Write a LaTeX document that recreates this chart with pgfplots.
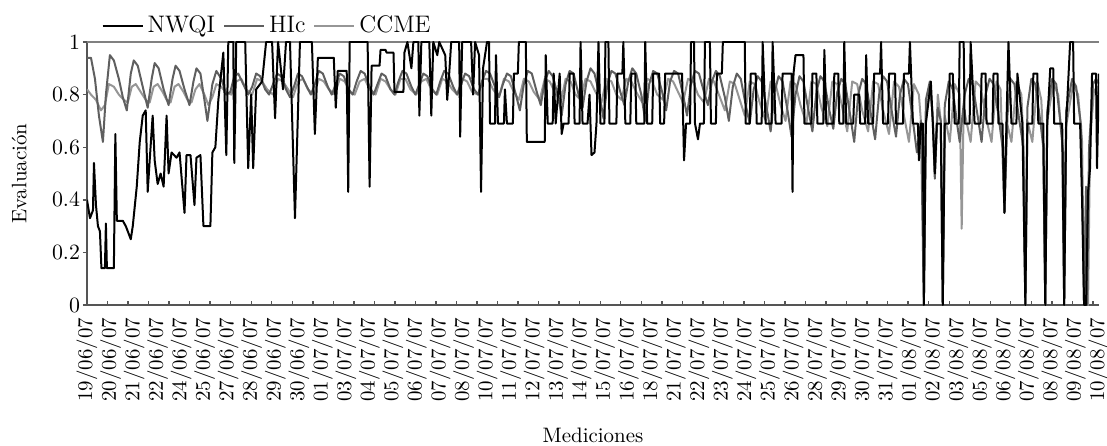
\documentclass[border=0pt]{standalone}
\usepackage{fontspec}
\usepackage{pgfplots}
\pgfplotsset{compat=1.18}
\definecolor{hicgray}{RGB}{95,95,95}
\definecolor{ccmegray}{RGB}{150,150,150}
\definecolor{axgray}{RGB}{85,85,85}
\begin{document}
\begin{tikzpicture}
\begin{axis}[
  name=ax,
  scale only axis, width=506bp, height=131.5bp,
  xmin=0, xmax=1017, ymin=0, ymax=1,
  every axis/.append style={font=\fontsize{10.5}{12.6}\selectfont},
  axis lines*=left,
  axis line style={axgray, line width=0.9bp},
  tick align=inside,
  xtick={0,23.651,...,1018},
  xticklabels={19/06/07,20/06/07,21/06/07,22/06/07,24/06/07,25/06/07,27/06/07,28/06/07,29/06/07,30/06/07,01/07/07,03/07/07,04/07/07,05/07/07,06/07/07,07/07/07,08/07/07,10/07/07,11/07/07,12/07/07,13/07/07,14/07/07,15/07/07,16/07/07,18/07/07,21/07/07,22/07/07,23/07/07,24/07/07,25/07/07,26/07/07,28/07/07,29/07/07,30/07/07,31/07/07,01/08/07,02/08/07,03/08/07,05/08/07,06/08/07,07/08/07,08/08/07,09/08/07,10/08/07},
  major x tick style={draw=none},
  minor xtick={20.63,41.26,...,1012},
  minor tick length=2bp,
  minor x tick style={axgray, line width=0.7bp},
  ytick={0,0.2,0.4,0.6,0.8,1},
  major tick length=2bp,
  major y tick style={axgray, line width=0.7bp, xshift=-2bp},
  xticklabel style={yshift=-3bp, rotate=90, anchor=east},
  every axis y label/.style={at={(axis description cs:-0.067,0.5)}, rotate=90, anchor=center},
  every axis x label/.style={at={(axis description cs:0.5,0)}, anchor=center, yshift=-65bp},
  ylabel={Evaluación},
  xlabel={Mediciones},
  legend columns=3,
  legend style={at={(axis description cs:0.012,1)}, anchor=south west, draw=none, fill=none,
    inner sep=1bp, font=\fontsize{12}{14}\selectfont,
    /tikz/every even column/.append style={column sep=2bp}},
  legend image code/.code={\draw[#1] (0bp,0bp) -- (20bp,0bp);},
  line join=round,
]
\draw[gray, line width=0.8bp] (rel axis cs:0,1) -- (rel axis cs:1,1);
\addlegendimage{black, line width=1bp}
\addlegendentry{NWQI}
\addlegendimage{hicgray, line width=1bp}
\addlegendentry{HIc}
\addlegendimage{ccmegray, line width=1bp}
\addlegendentry{CCME}

% CCME
\addplot[ccmegray, line width=1bp, forget plot] coordinates {
(0,0.82)(4,0.80)(9,0.78)(14,0.74)(18,0.76)(22,0.84)(27,0.83)(32,0.80)(37,0.78)(41,0.77)(45,0.83)
(49,0.84)(54,0.81)(59,0.78)(63,0.77)(67,0.83)(71,0.84)(76,0.81)(80,0.78)(84,0.77)(88,0.83)(92,0.84)
(97,0.81)(101,0.78)(105,0.77)(109,0.82)(113,0.84)(118,0.80)(122,0.76)(126,0.79)(130,0.84)(135,0.83)
(139,0.81)(145,0.80)(150,0.85)(155,0.86)(160,0.82)(166,0.80)(171,0.86)(176,0.85)(181,0.82)
(187,0.80)(192,0.86)(197,0.85)(202,0.82)(207,0.79)(212,0.85)(217,0.86)(222,0.82)(228,0.80)(233,0.86)
(238,0.85)(243,0.82)(249,0.80)(254,0.86)(259,0.85)(264,0.81)(269,0.80)(274,0.85)(279,0.86)(284,0.82)
(290,0.80)(295,0.86)(300,0.85)(305,0.82)(310,0.80)(315,0.86)(320,0.86)(325,0.82)(331,0.80)(336,0.85)
(341,0.86)(346,0.82)(352,0.80)(357,0.86)(362,0.85)(367,0.82)(372,0.80)(377,0.86)(382,0.85)(387,0.81)
(393,0.80)(398,0.86)(403,0.86)(408,0.82)(414,0.79)(419,0.86)(424,0.85)(429,0.81)(434,0.78)(439,0.86)
(444,0.85)(449,0.81)(455,0.78)(460,0.86)(465,0.85)(470,0.81)(476,0.77)(481,0.86)(486,0.85)(491,0.80)
(496,0.78)(501,0.86)(506,0.85)(511,0.81)(517,0.77)(522,0.86)(527,0.85)(532,0.80)(537,0.78)(542,0.86)
(547,0.85)(552,0.81)(558,0.77)(563,0.86)(568,0.85)(573,0.80)(579,0.78)(584,0.86)(589,0.85)(594,0.81)
(599,0.77)(604,0.86)(609,0.85)(614,0.80)(620,0.77)(625,0.86)(630,0.85)(635,0.80)(641,0.74)(646,0.85)
(651,0.84)(656,0.78)(661,0.72)(666,0.85)(671,0.84)(676,0.77)(682,0.70)(687,0.85)(692,0.84)(697,0.76)
(702,0.70)(707,0.85)(712,0.84)(717,0.76)(723,0.69)(728,0.85)(733,0.84)(738,0.75)(744,0.68)(749,0.85)
(754,0.84)(759,0.75)(764,0.66)(769,0.85)(774,0.84)(779,0.74)(785,0.66)(790,0.85)(795,0.84)(800,0.74)
(806,0.65)(811,0.85)(816,0.83)(821,0.72)(826,0.62)(831,0.84)(836,0.80)(839,0.65)(841,0)(843,0.70)
(847,0.84)(850,0.72)(852,0.50)(855,0.80)(858,0.70)(860,0)(862,0.72)(867,0.62)(872,0.84)(877,0.80)
(879,0.29)(881,0.75)(888,0.62)(893,0.85)(898,0.83)(903,0.72)(909,0.62)(914,0.85)(918,0.82)(922,0.36)
(924,0.70)(929,0.62)(934,0.85)(939,0.80)(941,0.62)(943,0)(945,0.70)(950,0.62)(955,0.85)(959,0.78)
(961,0.62)(963,0)(965,0.70)(971,0.84)(976,0.80)(980,0.62)(982,0)(984,0.68)(991,0.84)(996,0.80)
(1000,0.62)(1002,0)(1004,0.40)(1006,0)(1008,0.62)(1012,0.82)(1017,0.80)
};

% HIc
\addplot[hicgray, line width=1bp, forget plot] coordinates {
(0,0.94)(4,0.94)(8,0.86)(12,0.72)(16,0.62)(19,0.80)(23,0.95)(27,0.93)(32,0.86)(36,0.79)(40,0.74)
(44,0.88)(47,0.93)(51,0.91)(56,0.83)(61,0.75)(65,0.86)(68,0.92)(72,0.90)(77,0.82)(82,0.76)(86,0.86)
(89,0.91)(93,0.89)(98,0.82)(103,0.76)(107,0.85)(110,0.90)(114,0.88)(118,0.78)(121,0.70)(126,0.84)
(130,0.89)(135,0.86)(140,0.80)(144,0.81)(148,0.87)(152,0.88)(157,0.84)(162,0.80)(166,0.83)(170,0.88)
(174,0.87)(179,0.82)(183,0.80)(187,0.84)(191,0.88)(195,0.87)(200,0.82)(204,0.79)(208,0.83)(212,0.88)
(216,0.87)(221,0.83)(225,0.80)(229,0.84)(233,0.89)(237,0.88)(242,0.83)(246,0.80)(250,0.84)(254,0.88)
(258,0.87)(263,0.82)(267,0.80)(271,0.85)(275,0.89)(279,0.88)(284,0.83)(288,0.80)(292,0.84)(296,0.88)
(300,0.87)(305,0.82)(309,0.80)(313,0.85)(317,0.89)(321,0.88)(326,0.83)(330,0.80)(334,0.84)(338,0.88)
(342,0.87)(347,0.82)(351,0.80)(355,0.85)(359,0.89)(363,0.88)(368,0.83)(372,0.80)(376,0.84)(380,0.88)
(384,0.87)(389,0.82)(393,0.80)(397,0.85)(401,0.89)(405,0.88)(410,0.83)(414,0.79)(418,0.84)(422,0.88)
(426,0.87)(431,0.80)(435,0.74)(439,0.84)(443,0.89)(447,0.88)(452,0.81)(456,0.76)(460,0.85)(464,0.89)
(468,0.87)(473,0.80)(477,0.72)(481,0.84)(485,0.89)(489,0.88)(494,0.80)(498,0.75)(502,0.85)(506,0.90)
(510,0.88)(515,0.80)(519,0.71)(523,0.84)(527,0.89)(531,0.88)(536,0.81)(540,0.76)(544,0.85)(548,0.90)
(552,0.88)(557,0.80)(561,0.70)(565,0.84)(569,0.89)(573,0.88)(578,0.81)(582,0.74)(586,0.85)(590,0.89)
(594,0.88)(599,0.80)(603,0.72)(607,0.84)(611,0.89)(615,0.88)(620,0.81)(624,0.76)(628,0.85)(632,0.89)
(636,0.87)(641,0.79)(645,0.70)(649,0.83)(653,0.88)(657,0.86)(662,0.76)(666,0.69)(670,0.82)(674,0.87)
(678,0.85)(683,0.75)(687,0.66)(691,0.81)(695,0.87)(699,0.85)(704,0.74)(708,0.64)(712,0.80)(716,0.87)
(720,0.85)(725,0.74)(729,0.66)(733,0.81)(737,0.87)(741,0.85)(746,0.74)(750,0.67)(754,0.81)(758,0.86)
(762,0.84)(767,0.72)(771,0.62)(775,0.80)(779,0.86)(783,0.84)(788,0.72)(792,0.63)(796,0.80)(800,0.87)
(804,0.85)(809,0.73)(813,0.64)(817,0.80)(821,0.86)(825,0.84)(830,0.70)(834,0.58)(838,0.70)(841,0)
(843,0.78)(847,0.85)(850,0.70)(852,0.48)(855,0.75)(858,0.70)(860,0)(862,0.76)(866,0.85)(870,0.82)
(874,0.70)(877,0.62)(882,0.80)(886,0.86)(890,0.84)(895,0.72)(899,0.62)(903,0.80)(907,0.86)(911,0.84)
(916,0.72)(920,0.60)(922,0.35)(925,0.72)(928,0.86)(932,0.84)(937,0.70)(941,0.60)(943,0)(945,0.75)
(949,0.86)(953,0.84)(958,0.70)(961,0.60)(963,0)(965,0.74)(970,0.86)(974,0.84)(978,0.70)(981,0.58)
(982,0)(984,0.74)(990,0.86)(994,0.83)(999,0.68)(1002,0)(1004,0.45)(1005,0)(1007,0.60)(1011,0.84)
(1014,0.86)(1017,0.84)
};

% NWQI
\addplot[black, line width=1bp, forget plot] coordinates {
(0,0.40)(3,0.33)(6,0.36)(7,0.54)(9,0.38)(11,0.30)(13,0.28)(14.5,0.14)(18,0.14)(19,0.31)(20,0.14)(27,0.14)
(28.5,0.65)(30,0.32)(36,0.32)(39,0.30)(44,0.25)(46,0.30)(50,0.45)(53,0.62)(56,0.72)(59,0.74)(61,0.43)
(63,0.55)(66,0.72)(68,0.55)(71,0.46)(74,0.50)(77,0.45)(80,0.72)(82,0.50)(85,0.58)(90,0.56)(93,0.58)
(98,0.35)(100,0.57)(104,0.57)(108,0.38)(110,0.56)(114,0.57)(117,0.30)(124,0.30)(126,0.58)(129,0.60)
(132,0.78)(137,0.96)(140,0.57)(142,1.0)(147,1.0)(148,0.54)(150,1.0)(159,1.0)(162,0.52)(165,0.80)
(167,0.52)(170,0.82)(176,0.85)(180,1.0)(186,1.0)(189,0.71)(192,1.0)(197,0.82)(200,1.0)(204,1.0)
(209,0.33)(214,1.0)(226,1.0)(229,0.65)(232,0.94)(248,0.94)(250,0.75)(252,0.89)(261,0.89)(262.5,0.43)
(264,1.0)(282,1.0)(284,0.45)(286,0.91)(294,0.91)
(295,0.97)(300,0.97)(301,0.96)(308,0.96)(309,0.81)(318,0.81)(319,0.96)(322,1.0)(326,0.9)(328,1.0)
(333,1.0)(334,0.72)(336,1.0)(344,1.0)(346,0.72)(348,1.0)(352,0.95)(354,1.0)(360,0.95)(362,0.78)
(364,0.88)(366,1.0)(374,1.0)(375,0.64)(377,1.0)(386,1.0)(388,0.80)(390,1.0)(394,0.95)(396,0.43)
(398,0.90)(402,1.0)(404,1.0)
(405,0.69)(410,0.69)(411,0.95)(413,0.69)(419,0.69)(420,0.82)(422,0.69)(428,0.69)(429,0.88)(433,0.88)
(434,1.0)(441,1.0)(442,0.62)(460,0.62)(461,0.95)(463,0.69)(468,0.69)(469,0.88)(471,0.69)(475,0.88)
(477,0.65)(479,0.69)(484,0.69)(485,0.88)(489,0.88)(490,0.69)(495,0.69)(496,1.0)(498,0.69)(503,0.69)
(505,0.80)(507,0.57)(510,0.58)(512,0.69)(514,1.0)(516,0.69)(520,0.69)(521,1.0)(524,1.0)(525,0.69)
(532,0.69)(533,0.88)(538,0.88)(539,1.0)(541,0.69)(546,0.69)(547,0.88)(551,0.88)(552,0.69)(560,0.69)
(561,1.0)(563,0.69)(568,0.69)(569,0.88)(575,0.88)(576,0.69)(580,0.69)(581,0.88)(598,0.88)(600,0.55)
(602,0.69)(606,0.69)(607,1.0)(610,1.0)(611,0.69)(614,0.63)(616,0.69)(620,0.69)(621,1.0)(626,1.0)
(627,0.69)(632,0.69)(633,0.88)(638,0.88)(639,1.0)
(644,1.0)(661,1.0)(662,0.69)(666,0.69)(667,0.88)(672,0.88)(673,0.69)(678,0.69)(679,1.0)(682,0.69)
(688,0.69)(689,1.0)(692,0.69)(698,0.69)(699,0.88)(708,0.88)(709,0.43)(710,0.88)(712,0.95)(720,0.95)
(721,0.69)(728,0.69)(729,0.88)(733,0.88)(734,0.69)(740,0.69)(741,0.97)(743,0.69)(750,0.69)(751,0.88)
(755,0.88)(756,0.69)(760,0.69)(761,1.0)(763,0.69)(770,0.69)(771,0.80)(776,0.80)(777,0.69)(782,0.69)
(783,0.95)(785,0.69)(790,0.69)(791,0.88)(797,0.88)(798,1.0)(800,0.69)(805,0.69)(806,0.88)(812,0.88)
(813,0.69)(820,0.69)(821,0.88)(826,0.88)(827,1.0)(830,0.69)(835,0.69)(836,0.55)(838,0.69)(840,0.69)
(841,0)(843,0.69)(848,0.85)(850,0.69)(852,0.50)(854,0.69)(858,0.69)(860,0)(862,0.69)(866,0.69)
(867,0.88)(870,0.88)(872,0.69)(876,0.69)(877,1.0)(881,1.0)(882,0.69)(887,0.69)(888,1.0)(892,0.69)
(898,0.69)(899,0.88)(903,0.88)(904,0.69)(910,0.69)(911,0.88)(915,0.88)(916,0.69)(920,0.69)(922,0.35)
(924,0.69)(926,1.0)(929,0.69)(934,0.69)(935,0.88)(940,0.69)(943,0)(945,0.69)(950,0.69)(951,0.88)
(955,0.88)(956,0.69)(961,0.69)(963,0)(965,0.69)(968,0.90)(971,0.90)(972,0.69)(980,0.69)(982,0)
(984,0.69)(988,1.0)(991,1.0)(992,0.69)(998,0.69)(1000,0.40)(1002,0)(1004,0)(1006,0.43)(1008,0.52)
(1010,0.88)(1014,0.88)(1015,0.52)(1017,0.88)
};
\end{axis}
% page frame with the reference's margins round the axis box
\path (ax.south west) ++(-43.5bp,-70.5bp) coordinate (bbA);
\path (ax.north east) ++(4bp,21bp) coordinate (bbB);
\pgfresetboundingbox
\path (bbA) rectangle (bbB);
\end{tikzpicture}
\end{document}
